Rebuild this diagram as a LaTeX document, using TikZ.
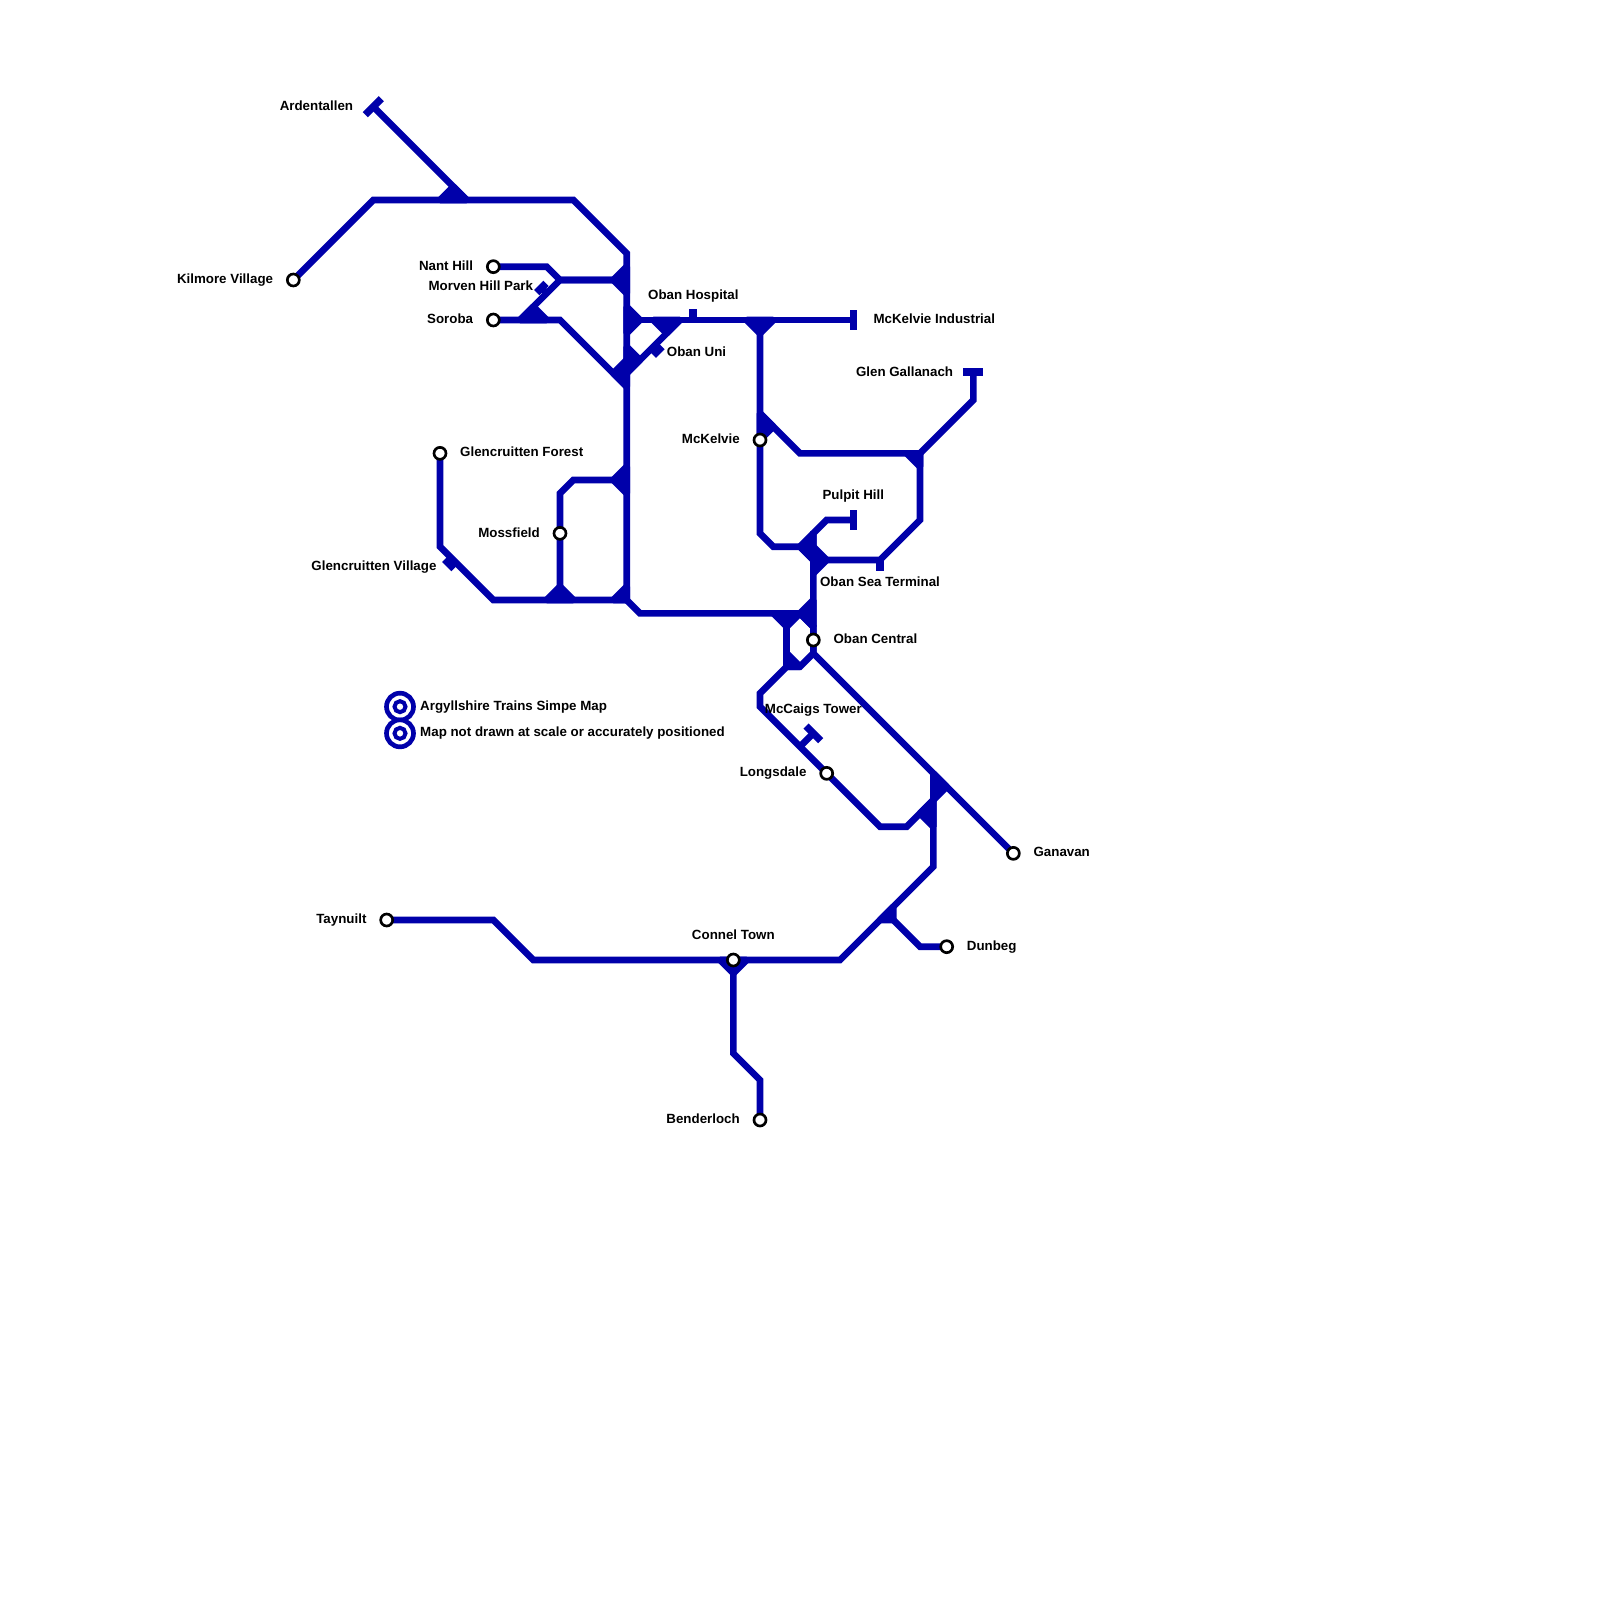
\documentclass[tikz,border=0pt]{standalone}
\usepackage{fontspec}
\setmainfont{Liberation Sans}
\usetikzlibrary{backgrounds}
\definecolor{railblue}{HTML}{0000AA}
\tikzset{
  rail/.style={draw=railblue,line width=0.2cm,line join=miter,line cap=butt},
  railbar/.style={draw=railblue,line width=0.22cm,line cap=butt},
  railstub/.style={draw=railblue,line width=0.24cm,line cap=butt},
  fillet/.style={fill=railblue,draw=railblue,line width=0.2cm,line join=bevel},
  station/.style={circle,draw=black,fill=white,line width=0.08cm,minimum size=0.36cm,inner sep=0pt},
  lab/.style={inner sep=0pt,font=\fontsize{11.38}{13}\selectfont\bfseries,text=black},
  labr/.style={lab,anchor=base east},
  labl/.style={lab,anchor=base west},
  labc/.style={lab,anchor=base},
  ringout/.style={circle,draw=railblue,fill=white,line width=0.14cm,minimum size=0.81cm,inner sep=0pt},
  ringin/.style={circle,draw=railblue,fill=white,line width=0.12cm,minimum size=0.33cm,inner sep=0pt}
}
\begin{document}
\begin{tikzpicture}[x=0.4cm,y=-0.4cm]
\useasboundingbox (0,0) rectangle (120,120);
% stations
\node[station] (kilmore) at (22,21) {};
\node[station] (nant) at (37,20) {};
\node[station] (soroba) at (37,24) {};
\node[station] (mckelvie) at (57,33) {};
\node[station] (forest) at (33,34) {};
\node[station] (mossfield) at (42,40) {};
\node[station] (central) at (61,48) {};
\node[station] (longsdale) at (62,58) {};
\node[station] (ganavan) at (76,64) {};
\node[station] (taynuilt) at (29,69) {};
\node[station] (connel) at (55,72) {};
\node[station] (dunbeg) at (71,71) {};
\node[station] (benderloch) at (57,84) {};
% terminals and stubs
\coordinate (ardentallen) at (28,8);
\coordinate (industrial) at (64,24);
\coordinate (gallanach) at (73,27.9);
\coordinate (pulpit) at (64,39);
\coordinate (hospital) at (52,23.2);
\coordinate (seaterm) at (66,42.8);
\coordinate (obanuni) at (49.3,26.3);
\coordinate (morven) at (40.6,21.6);
\coordinate (village) at (33.7,42.3);
\coordinate (mccaigs) at (61,55);
\begin{scope}[on background layer]
% lines
\draw[rail] (ardentallen) -- (35,15);
\draw[rail] (kilmore.center) -- (28,15) -- (43,15) -- (47,19) -- (47,45) -- (48,46) -- (60,46) -- (61,47) -- (central.center);
\draw[rail] (nant.center) -- (41,20) -- (42,21) -- (46,21);
\draw[rail] (47,21) -- (42,21) -- (39,24);
\draw[rail] (soroba.center) -- (42,24) -- (47,29);
\draw[rail] (47,24) -- (industrial);
\draw[rail] (51,24) -- (47,28);
\draw[rail] (57,24) -- (57,40) -- (58,41) -- (60,41) -- (61,42) -- (66,42) -- (69,39) -- (69,34);
\draw[rail] (57,31) -- (60,34) -- (69,34) -- (73,30) -- (gallanach);
\draw[rail] (pulpit) -- (62,39) -- (61,40) -- (central.center) -- (61,49) -- (60,50) -- (59,50) -- (57,52) -- (57,53) -- (66,62) -- (68,62) -- (70,60);
\draw[rail] (59,46) -- (59,50);
\draw[rail] (central.center) -- (61,49) -- (ganavan.center);
\draw[rail] (70,58) -- (70,65) -- (63,72) -- (40,72) -- (37,69) -- (taynuilt.center);
\draw[rail] (67,69) -- (69,71) -- (dunbeg.center);
\draw[rail] (connel.center) -- (55,79) -- (57,81) -- (benderloch.center);
\draw[rail] (forest.center) -- (33,41) -- (37,45) -- (47,45);
\draw[rail] (47,36) -- (43,36) -- (42,37) -- (42,45);
% junction fillets
\fill[fillet] (33,15) -- (34,14) -- (35,15) -- cycle;
\fill[fillet] (46,21) -- (47,20) -- (47,22) -- cycle;
\fill[fillet] (39,24) -- (40,23) -- (41,24) -- cycle;
\fill[fillet] (47,23) -- (48,24) -- (47,25) -- cycle;
\fill[fillet] (49,24) -- (50,25) -- (51,24) -- cycle;
\fill[fillet] (47,26) -- (48,27) -- (47,28) -- cycle;
\fill[fillet] (46,28) -- (47,27) -- (47,29) -- cycle;
\fill[fillet] (56,24) -- (57,25) -- (58,24) -- cycle;
\fill[fillet] (57,31) -- (58,32) -- (57,33) -- cycle;
\fill[fillet] (68,34) -- (69,35) -- (69,34) -- cycle;
\fill[fillet] (46,36) -- (47,35) -- (47,37) -- cycle;
\fill[fillet] (41,45) -- (42,44) -- (43,45) -- cycle;
\fill[fillet] (46,45) -- (47,44) -- (47,45) -- cycle;
\fill[fillet] (60,41) -- (61,40) -- (61,42) -- cycle;
\fill[fillet] (61,41) -- (62,42) -- (61,43) -- cycle;
\fill[fillet] (60,46) -- (61,45) -- (61,47) -- cycle;
\fill[fillet] (58,46) -- (59,47) -- (60,46) -- cycle;
\fill[fillet] (59,49) -- (60,50) -- (59,50) -- cycle;
\fill[fillet] (70,58) -- (71,59) -- (70,60) -- cycle;
\fill[fillet] (69,61) -- (70,60) -- (70,62) -- cycle;
\fill[fillet] (66,69) -- (67,68) -- (67,69) -- cycle;
\fill[fillet] (54,72) -- (55,73) -- (56,72) -- cycle;
% terminal bars
\draw[railbar] (27.4,8.6) -- (28.6,7.4);
\draw[railbar] (64,23.25) -- (64,24.75);
\draw[railbar] (72.25,27.9) -- (73.75,27.9);
\draw[railbar] (64,38.25) -- (64,39.75);
\draw[railstub] (52,24) -- (hospital);
\draw[railstub] (66,42) -- (seaterm);
\draw[rail] (49,26) -- (obanuni);
\draw[railbar] (49,26.65) -- (49.65,26);
\draw[rail] (41,22) -- (morven);
\draw[railbar] (40.95,21.25) -- (40.25,21.95);
\draw[rail] (34,42) -- (village);
\draw[railbar] (34.05,42.65) -- (33.35,41.95);
\draw[rail] (60,56) -- (mccaigs);
\draw[railbar] (60.45,54.45) -- (61.55,55.55);
\end{scope}
% legend
\node[ringout] (ringa) at (30,53) {};
\node[ringin] (ringai) at (30,53) {};
\node[ringout] (ringb) at (30,55) {};
\node[ringin] (ringbi) at (30,55) {};
% labels
\node[labr] (tardentallen) at (26.5,8.28) {Ardentallen};
\node[labr] (tkilmore) at (20.5,21.23) {Kilmore Village};
\node[labr] (tnant) at (35.5,20.3) {Nant Hill};
\node[labr] (tmorven) at (40,21.75) {Morven Hill Park};
\node[labr] (tsoroba) at (35.5,24.23) {Soroba};
\node[labc] (thospital) at (52,22.48) {Oban Hospital};
\node[labl] (tindustrial) at (65.5,24.23) {McKelvie Industrial};
\node[labl] (tuni) at (50,26.75) {Oban Uni};
\node[labr] (tgallanach) at (71.5,28.23) {Glen Gallanach};
\node[labr] (tmckelvie) at (55.5,33.23) {McKelvie};
\node[labl] (tforest) at (34.5,34.23) {Glencruitten Forest};
\node[labc] (tpulpit) at (64,37.45) {Pulpit Hill};
\node[labr] (tmossfield) at (40.5,40.3) {Mossfield};
\node[labr] (tvillage) at (32.75,42.75) {Glencruitten Village};
\node[labc] (tsea) at (66,43.95) {Oban Sea Terminal};
\node[labl] (tcentral) at (62.5,48.23) {Oban Central};
\node[labl] (tlega) at (31.5,53.25) {Argyllshire Trains Simpe Map};
\node[labl] (tlegb) at (31.5,55.25) {Map not drawn at scale or accurately positioned};
\node[labc] (tmccaigs) at (61,53.52) {McCaigs Tower};
\node[labr] (tlongsdale) at (60.5,58.23) {Longsdale};
\node[labl] (tganavan) at (77.5,64.23) {Ganavan};
\node[labr] (ttaynuilt) at (27.5,69.23) {Taynuilt};
\node[labc] (tconnel) at (55,70.45) {Connel Town};
\node[labl] (tdunbeg) at (72.5,71.25) {Dunbeg};
\node[labr] (tbenderloch) at (55.5,84.23) {Benderloch};
\end{tikzpicture}
\end{document}
